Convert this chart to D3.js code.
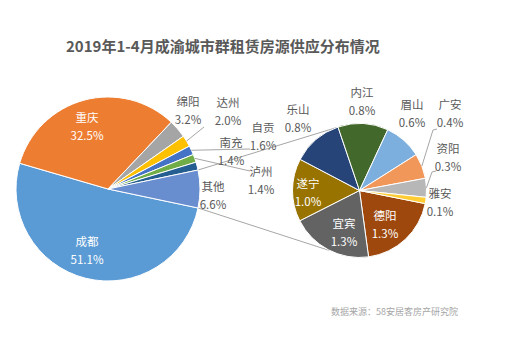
<!DOCTYPE html>
<html>
<head>
<meta charset="utf-8">
<script src="https://cdn.jsdelivr.net/npm/d3@7"></script>
<style>
  html, body { margin: 0; padding: 0; background: #fff; }
  svg { display: block; font-family: "Noto Sans CJK SC", "Noto Sans", sans-serif; }
</style>
</head>
<body>
<svg id="chart" width="515" height="346"></svg>
<script>
// ---- data ----
const title = "2019年1-4月成渝城市群租赁房源供应分布情况";
const source = "数据来源：58安居客房产研究院";

const mainCats = ["成都", "重庆", "绵阳", "达州", "自贡", "泸州", "南充", "其他"];
const mainVals = [51.1, 32.5, 3.2, 2.0, 1.6, 1.4, 1.4, 6.6];
const mainColors = ["#5B9BD5", "#ED7D31", "#A5A5A5", "#FFC000", "#4472C4", "#70AD47", "#255E91", "#698ED0"];

const subCats = ["德阳", "宜宾", "遂宁", "乐山", "内江", "眉山", "广安", "资阳", "雅安"];
const subVals = [1.3, 1.3, 1.0, 0.8, 0.8, 0.6, 0.4, 0.3, 0.1];
const subColors = ["#9E480E", "#636363", "#997300", "#264478", "#43682B", "#7CAFDD", "#F1975A", "#B7B7B7", "#FFCD33"];

// ---- layout ----
const svg = d3.select("#chart");
const mainC = [108, 189], mainR = 92;
const subC = [359.5, 190.5], subR = 67;
const deg = Math.PI / 180;
const textCol = "#595959";
const fs = 11.5;

svg.append("text").attr("x", 66).attr("y", 52)
  .attr("font-size", 15).attr("font-weight", "bold").attr("fill", textCol)
  .text(title);

svg.append("text").attr("x", 331).attr("y", 315)
  .attr("font-size", 9).attr("fill", "#A6A6A6").text(source);

// main pie: "其他" centred on 3 o'clock
const mainTotal = d3.sum(mainVals);
const otherSpan = mainVals[mainVals.length - 1] / mainTotal * 2 * Math.PI;
const mainStart = Math.PI / 2 + otherSpan / 2;
const mainPie = d3.pie().sort(null).startAngle(mainStart).endAngle(mainStart + 2 * Math.PI);
const mainArcs = mainPie(mainVals);
const mainArc = d3.arc().innerRadius(0).outerRadius(mainR);

const subStart = mainStart - 0.6 * deg;
const subPie = d3.pie().sort(null).startAngle(subStart).endAngle(subStart + 2 * Math.PI);
const subArcs = subPie(subVals);
const subArc = d3.arc().innerRadius(0).outerRadius(subR);

function pt(c, r, a) { return [c[0] + r * Math.sin(a), c[1] - r * Math.cos(a)]; }

// connector lines between "其他" and secondary pie
const otherArc = mainArcs[mainArcs.length - 1];
const conn = [
  [pt(mainC, mainR, otherArc.startAngle), pt(subC, subR, -20 * deg)],
  [pt(mainC, mainR, otherArc.endAngle), pt(subC, subR, 206 * deg)]
];
svg.append("g").selectAll("line").data(conn).join("line")
  .attr("x1", d => d[0][0]).attr("y1", d => d[0][1])
  .attr("x2", d => d[1][0]).attr("y2", d => d[1][1])
  .attr("stroke", "#A6A6A6").attr("stroke-width", 1);

svg.append("g").attr("transform", `translate(${mainC})`)
  .selectAll("path").data(mainArcs).join("path")
  .attr("d", mainArc).attr("fill", (d, i) => mainColors[i])
  .attr("stroke", "#fff").attr("stroke-width", 1);

svg.append("g").attr("transform", `translate(${subC})`)
  .selectAll("path").data(subArcs).join("path")
  .attr("d", subArc).attr("fill", (d, i) => subColors[i])
  .attr("stroke", "#fff").attr("stroke-width", 1);

// leader lines: from slice edge mid-angle to label points
const mid = d => (d.startAngle + d.endAngle) / 2;
const leaders = [
  [pt(mainC, mainR, mid(mainArcs[3])), [204, 127]],
  [pt(mainC, mainR, mid(mainArcs[4])), [250, 149]],
  [pt(mainC, mainR, mid(mainArcs[5])), [250, 171]],
  [pt(subC, subR, mid(subArcs[6])), [433, 130], [437, 129]],
  [pt(subC, subR, mid(subArcs[7])), [432, 172], [436, 171]]
];
svg.append("g").selectAll("polyline").data(leaders).join("polyline")
  .attr("points", d => d.map(p => p.join(",")).join(" "))
  .attr("fill", "none").attr("stroke", "#A6A6A6").attr("stroke-width", 1);

// labels: [category, value, x, y (centre of first line), colour]
const labelPos = {
  "成都": [87, 242, "#fff"], "重庆": [87, 118, "#fff"], "绵阳": [188, 102, textCol],
  "达州": [228, 103, textCol], "自贡": [263, 128, textCol], "南充": [231, 143, textCol],
  "泸州": [261, 172, textCol], "其他": [213, 187, textCol],
  "乐山": [298, 110, textCol], "内江": [362, 93, textCol], "眉山": [412, 105, textCol],
  "广安": [450, 105, textCol], "资阳": [448, 149, textCol], "雅安": [440, 194, textCol],
  "遂宁": [308, 184, "#fff"], "宜宾": [344, 224, "#fff"], "德阳": [385, 216, "#fff"]
};
const labels = mainCats.slice(0, -1).map((c, i) => [c, mainVals[i]])
  .concat([["其他", mainVals[mainVals.length - 1]]])
  .concat(subCats.map((c, i) => [c, subVals[i]]));

const lg = svg.append("g").attr("font-size", fs).attr("text-anchor", "middle");
labels.forEach(([c, v]) => {
  const p = labelPos[c];
  const t = lg.append("text").attr("x", p[0]).attr("y", p[1]).attr("fill", p[2]);
  t.append("tspan").attr("x", p[0]).attr("dy", "0.35em").text(c);
  t.append("tspan").attr("x", p[0]).attr("dy", 17.5).text(v.toFixed(1) + "%");
});
</script>
</body>
</html>
